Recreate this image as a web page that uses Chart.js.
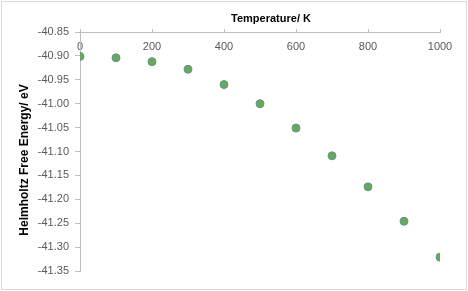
<!DOCTYPE html>
<html>
<head>
<meta charset="utf-8">
<script src="https://cdn.jsdelivr.net/npm/chart.js@4.4.1/dist/chart.umd.min.js"></script>
<style>
  html, body { margin: 0; padding: 0; background: #fff; }
  #wrap { width: 468px; height: 291px; position: relative; }
</style>
</head>
<body>
<div id="wrap"><canvas id="chart"></canvas></div>
<script>
// Temperature (K) and Helmholtz free energy (eV)
const temperatures = [0, 100, 200, 300, 400, 500, 600, 700, 800, 900, 1000];
const freeEnergy = [-40.901, -40.904, -40.912, -40.928, -40.960, -41.000, -41.051, -41.109, -41.174, -41.246, -41.321];

const xTitle = 'Temperature/ K';
const yTitle = 'Helmholtz Free Energy/ eV';

const labelColor = '#595959';
const axisColor = '#bfbfbf';

// white background, outer frame and the two axis titles
const framePlugin = {
    id: 'frame',
    beforeDraw(chart) {
        const ctx = chart.ctx;
        ctx.save();
        ctx.fillStyle = '#fff';
        ctx.fillRect(0, 0, chart.width, chart.height);
        ctx.strokeStyle = '#d9d9d9';
        ctx.lineWidth = 1;
        ctx.strokeRect(1.5, 1.5, chart.width - 3, chart.height - 3);
        ctx.restore();
    },
    afterDraw(chart) {
        const ctx = chart.ctx;
        ctx.save();
        ctx.fillStyle = '#000';
        ctx.textAlign = 'center';
        ctx.textBaseline = 'middle';
        ctx.font = 'bold 11px "Liberation Sans", Arial, sans-serif';
        ctx.fillText(xTitle, 271, 19);
        ctx.font = 'bold 12px "Liberation Sans", Arial, sans-serif';
        ctx.translate(25, 160);
        ctx.rotate(-Math.PI / 2);
        ctx.fillText(yTitle, 0, 0);
        ctx.restore();
    }
};

const ctx = document.getElementById('chart').getContext('2d');
new Chart(ctx, {
    type: 'scatter',
    data: {
        datasets: [{
            label: yTitle,
            data: temperatures.map((t, i) => ({ x: t, y: freeEnergy[i] })),
            backgroundColor: '#6aa65b',
            borderColor: '#5f9c8a',
            borderWidth: 1,
            pointRadius: 4,
            pointHoverRadius: 4
        }]
    },
    options: {
        responsive: true,
        maintainAspectRatio: false,
        animation: false,
        layout: {
            padding: { left: 0, top: 32, right: 28, bottom: 20 }
        },
        plugins: {
            legend: { display: false },
            tooltip: { enabled: false }
        },
        scales: {
            x: {
                type: 'linear',
                position: { y: -40.85 },
                min: 0,
                max: 1000,
                ticks: {
                    stepSize: 200,
                    color: labelColor,
                    padding: 12,
                    font: { size: 11, family: '"Liberation Sans", Arial, sans-serif' },
                    callback: v => String(v)
                },
                grid: {
                    drawOnChartArea: false,
                    tickLength: -4,
                    color: axisColor
                },
                border: { color: axisColor }
            },
            y: {
                position: 'left',
                min: -41.35,
                max: -40.85,
                afterFit: scale => { scale.width = 80; },
                ticks: {
                    stepSize: 0.05,
                    color: labelColor,
                    padding: 6,
                    font: { size: 11, family: '"Liberation Sans", Arial, sans-serif' },
                    callback: v => v.toFixed(2)
                },
                grid: {
                    drawOnChartArea: false,
                    tickLength: 5,
                    color: axisColor
                },
                border: { color: axisColor }
            }
        }
    },
    plugins: [framePlugin]
});
</script>
</body>
</html>
